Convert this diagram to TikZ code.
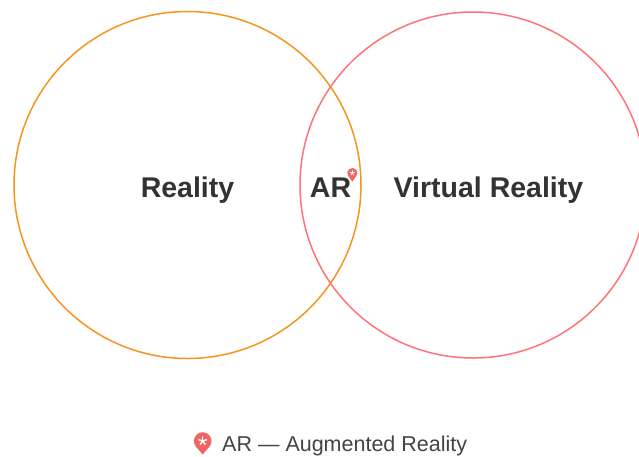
\documentclass[tikz,border=0pt]{standalone}
\usepackage{fontspec}
\setmainfont{Liberation Sans}
\definecolor{realorange}{HTML}{F7941D}
\definecolor{vrpink}{HTML}{FF737A}
\definecolor{pinred}{HTML}{F26464}
\definecolor{textdark}{HTML}{333333}
\definecolor{textgray}{HTML}{444444}
\tikzset{
  circ/.style={line width=1.5pt},
  bigtext/.style={font=\fontsize{28.5}{34}\selectfont\bfseries, text=textdark, inner sep=0pt, anchor=base},
  legtext/.style={font=\fontsize{21.5}{26}\selectfont, text=textgray, inner sep=0pt, anchor=base west},
}
% pin: #1 centre of head, #2 head radius, #3 distance head centre to tip, #4 scale of asterisk
\newcommand{\mypin}[4]{%
  \pgfmathsetmacro{\pinang}{acos(#2/#3)}%
  \fill[pinred] ($(#1)+(0,#3)$) -- ($(#1)+(90+\pinang:#2)$)
     arc[start angle=90+\pinang, end angle=450-\pinang, radius=#2] -- cycle;
  \foreach \a in {90,162,234,306,378}
    \draw[white, line width=#4*1.5pt, line cap=round] (#1) -- ++(\a:-#4*4);
}
\usetikzlibrary{calc}
\begin{document}
\begin{tikzpicture}[x=1pt,y=-1pt]
\useasboundingbox (0,0) rectangle (639,456);
\clip (0,0) rectangle (639,456);
\fill[white] (0,0) rectangle (639,456);
\draw[circ, realorange] (187.5,185) circle[radius=173.5];
\draw[circ, vrpink] (473,185) circle[radius=173];
\node[bigtext] (reality) at (187.5,197) {Reality};
\node[bigtext] (ar) at (330.5,197) {AR};
\node[bigtext] (vr) at (488.5,197) {Virtual Reality};
\coordinate (arpin) at (352.3,173);
\mypin{arpin}{5}{8.5}{0.55}
\coordinate (legpin) at (202.7,441);
\mypin{legpin}{8.8}{13.5}{1}
\node[legtext] (legend) at (222,451) {AR — Augmented Reality};
\end{tikzpicture}
\end{document}
